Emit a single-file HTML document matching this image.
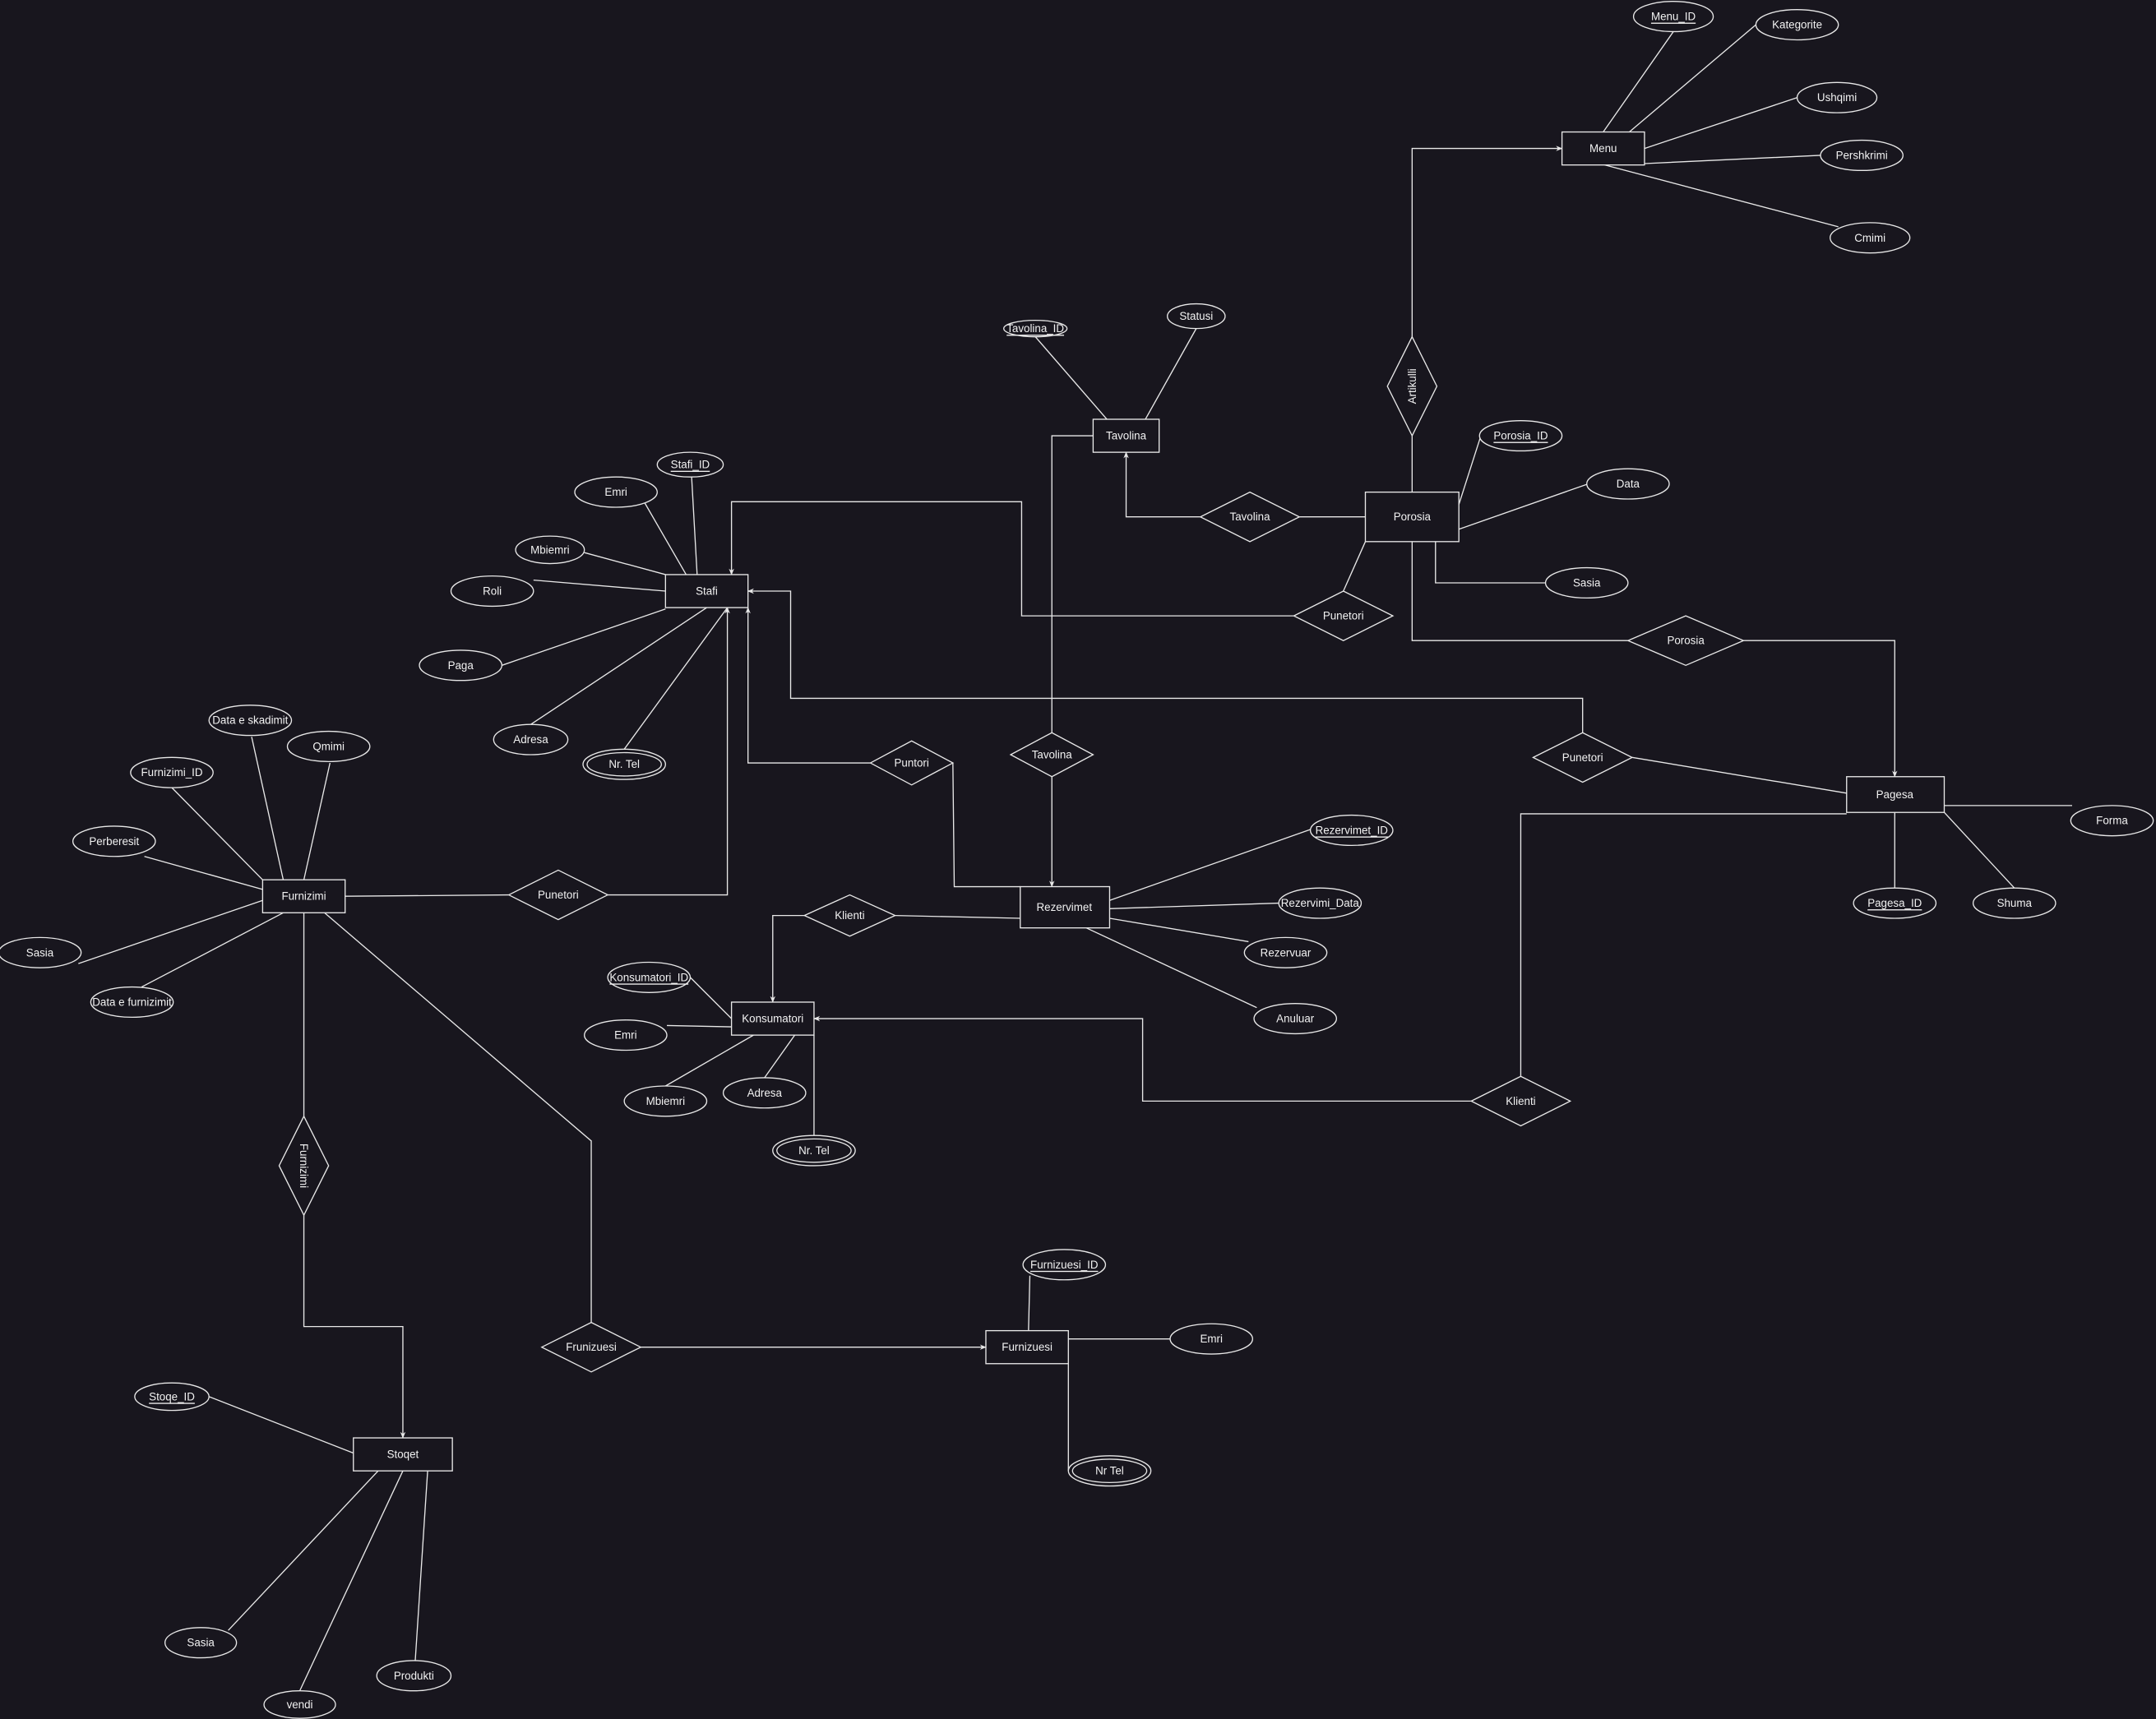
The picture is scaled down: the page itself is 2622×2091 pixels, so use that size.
<!DOCTYPE html>
<html><head><meta charset="utf-8"><style>
html,body{margin:0;padding:0;background:#18161e;}
svg{display:block;}
text{font-family:"Liberation Sans",sans-serif;font-size:8px;fill:#f2f2f2;text-anchor:middle;dominant-baseline:central;}
.s{stroke:#e8e8e8;stroke-width:0.8;fill:none;}
.f{stroke:#e8e8e8;stroke-width:0.8;fill:#18161e;}
</style></head><body>
<svg width="2622" height="2091" viewBox="0 0 1568 1250.5" preserveAspectRatio="none" xmlns="http://www.w3.org/2000/svg">
<defs><marker id="a" viewBox="0 0 10 10" refX="9" refY="5" markerWidth="6" markerHeight="6" orient="auto"><path d="M0,1 L10,5 L0,9 L3,5z" fill="#e8e8e8"/></marker></defs>
<rect width="1568" height="1251" fill="#18161e"/>
<g class="s">
<!-- attribute lines -->
<path d="M1166,96L1217,23M1185,96L1277,18M1196,108L1307,71M1196,119L1324,113M1167,120L1337,165"/>
<path d="M805,305L753,245M833,305L870,239"/>
<path d="M1061,367L1077,317M1061,385L1155,352M1044,394L1044,424L1124,424"/>
<path d="M507,418L503,347M499,418L469,366M484,418L425,402M484,430L388,422M484,443L365,484M514,442L386,527M529,442L454,545"/>
<path d="M206,640L183,536M221,640L240,555M191,640L125,573M191,647L105,623M191,655L57,701M206,664L103,718"/>
<path d="M807,655L957,602M807,661L930,657M807,668L908,685M790,675L914,733"/>
<path d="M532,741L502,711M532,747L485,746M548,753L484,790M578,753L556,784M592,753L592,826"/>
<path d="M1414,586L1507,586M1378,591L1378,646M1414,591L1465,646"/>
<path d="M748,968L749,928M777,974L851,974M777,992L777,1070"/>
<path d="M257,1057L152,1016M275,1070L166,1186M293,1070L218,1230M311,1070L302,1208"/>
<!-- relationships -->
<path d="M1027,358L1027,317"/>
<path d="M1027,245L1027,108L1136,108" marker-end="url(#a)"/>
<path d="M993,376L945,376"/>
<path d="M873,376L819,376L819,329" marker-end="url(#a)"/>
<path d="M795,317L765,317L765,533"/>
<path d="M765,565L765,645" marker-end="url(#a)"/>
<path d="M993,394L977,430"/>
<path d="M941,448L743,448L743,365L532,365L532,418" marker-end="url(#a)"/>
<path d="M1027,394L1027,466L1184,466"/>
<path d="M1268,466L1378,466L1378,565" marker-end="url(#a)"/>
<path d="M1343,577L1187,551"/>
<path d="M1151,533L1151,508L575,508L575,430L544,430" marker-end="url(#a)"/>
<path d="M633,555L544,555L544,442" marker-end="url(#a)"/>
<path d="M693,555L694,645L742,645"/>
<path d="M251,652L370,651"/>
<path d="M442,651L529,651L529,442" marker-end="url(#a)"/>
<path d="M742,668L651,666"/>
<path d="M585,666L562,666L562,729" marker-end="url(#a)"/>
<path d="M1343,592L1106,592L1106,783"/>
<path d="M1070,801L831,801L831,741L592,741" marker-end="url(#a)"/>
<path d="M221,664L221,812"/>
<path d="M221,884L221,965L293,965L293,1046" marker-end="url(#a)"/>
<path d="M236,664L430,830L430,962"/>
<path d="M466,980L717,980" marker-end="url(#a)"/>
</g>
<g class="f">
<rect x="1136" y="96" width="60" height="24"/><rect x="795" y="305" width="48" height="24"/>
<rect x="993" y="358" width="68" height="36"/><rect x="484" y="418" width="60" height="24"/>
<rect x="1343" y="565" width="71" height="26"/><rect x="742" y="645" width="65" height="30"/>
<rect x="191" y="640" width="60" height="24"/><rect x="532" y="729" width="60" height="24"/>
<rect x="717" y="968" width="60" height="24"/><rect x="257" y="1046" width="72" height="24"/>
<path d="M1027,245L1045,281L1027,317L1009,281z"/>
<path d="M873,376L909,358L945,376L909,394z"/>
<path d="M941,448L977,430L1013,448L977,466z"/>
<path d="M1184,466L1226,448L1268,466L1226,484z"/>
<path d="M1115,551L1151,533L1187,551L1151,569z"/>
<path d="M633,555L663,539L693,555L663,571z"/>
<path d="M735,549L765,533L795,549L765,565z"/>
<path d="M585,666L618,651L651,666L618,681z"/>
<path d="M370,651L406,633L442,651L406,669z"/>
<path d="M1070,801L1106,783L1142,801L1106,819z"/>
<path d="M221,812L239,848L221,884L203,848z"/>
<path d="M394,980L430,962L466,980L430,998z"/>
<ellipse cx="1217" cy="12" rx="29" ry="11"/><ellipse cx="1307" cy="18" rx="30" ry="11"/>
<ellipse cx="1336" cy="71" rx="29" ry="11"/><ellipse cx="1354" cy="113" rx="30" ry="11"/>
<ellipse cx="1360" cy="173" rx="29" ry="11"/><ellipse cx="753" cy="239" rx="23" ry="6"/>
<ellipse cx="870" cy="230" rx="21" ry="9"/><ellipse cx="1106" cy="317" rx="30" ry="11"/>
<ellipse cx="1184" cy="352" rx="30" ry="11"/><ellipse cx="1154" cy="424" rx="30" ry="11"/>
<ellipse cx="502" cy="338" rx="24" ry="9"/><ellipse cx="448" cy="358" rx="30" ry="11"/>
<ellipse cx="400" cy="400" rx="25" ry="10"/><ellipse cx="358" cy="430" rx="30" ry="11"/>
<ellipse cx="335" cy="484" rx="30" ry="11"/><ellipse cx="386" cy="538" rx="27" ry="11"/>
<ellipse cx="454" cy="556" rx="30" ry="11"/><ellipse cx="454" cy="556" rx="27" ry="8.5"/>
<ellipse cx="182" cy="524" rx="30" ry="11"/><ellipse cx="239" cy="543" rx="30" ry="11"/>
<ellipse cx="125" cy="562" rx="30" ry="11"/><ellipse cx="83" cy="612" rx="30" ry="11"/>
<ellipse cx="29" cy="693" rx="30" ry="11"/><ellipse cx="96" cy="729" rx="30" ry="11"/>
<ellipse cx="983" cy="604" rx="30" ry="11"/><ellipse cx="960" cy="657" rx="30" ry="11"/>
<ellipse cx="935" cy="693" rx="30" ry="11"/><ellipse cx="942" cy="741" rx="30" ry="11"/>
<ellipse cx="472" cy="711" rx="30" ry="11"/><ellipse cx="455" cy="753" rx="30" ry="11"/>
<ellipse cx="484" cy="801" rx="30" ry="11"/><ellipse cx="556" cy="795" rx="30" ry="11"/>
<ellipse cx="592" cy="837" rx="30" ry="11"/><ellipse cx="592" cy="837" rx="27" ry="8.5"/>
<ellipse cx="1536" cy="597" rx="30" ry="11"/><ellipse cx="1378" cy="657" rx="30" ry="11"/>
<ellipse cx="1465" cy="657" rx="30" ry="11"/><ellipse cx="774" cy="920" rx="30" ry="11"/>
<ellipse cx="881" cy="974" rx="30" ry="11"/>
<ellipse cx="807" cy="1070" rx="30" ry="11"/><ellipse cx="807" cy="1070" rx="27" ry="8.5"/>
<ellipse cx="125" cy="1016" rx="27" ry="10"/><ellipse cx="146" cy="1195" rx="26" ry="11"/>
<ellipse cx="218" cy="1240" rx="26" ry="10"/><ellipse cx="301" cy="1219" rx="27" ry="11"/>
</g>
<g>
<text x="1166" y="108">Menu</text><text x="819" y="317">Tavolina</text><text x="1027" y="376">Porosia</text>
<text x="514" y="430">Stafi</text><text x="1378" y="578">Pagesa</text><text x="774" y="660">Rezervimet</text>
<text x="221" y="652">Furnizimi</text><text x="562" y="741">Konsumatori</text><text x="747" y="980">Furnizuesi</text>
<text x="293" y="1058">Stoqet</text>
<text x="1027" y="281" transform="rotate(-90 1027 281)">Artikulli</text>
<text x="909" y="376">Tavolina</text><text x="977" y="448">Punetori</text><text x="1226" y="466">Porosia</text>
<text x="1151" y="551">Punetori</text><text x="663" y="555">Puntori</text><text x="765" y="549">Tavolina</text>
<text x="618" y="666">Klienti</text><text x="406" y="651">Punetori</text><text x="1106" y="801">Klienti</text>
<text x="221" y="848" transform="rotate(90 221 848)">Furnizimi</text><text x="430" y="980">Frunizuesi</text>
<text x="1217" y="12" text-decoration="underline">Menu_ID</text><text x="1307" y="18">Kategorite</text>
<text x="1336" y="71">Ushqimi</text><text x="1354" y="113">Pershkrimi</text><text x="1360" y="173">Cmimi</text>
<text x="753" y="239" text-decoration="underline">Tavolina_ID</text><text x="870" y="230">Statusi</text>
<text x="1106" y="317" text-decoration="underline">Porosia_ID</text><text x="1184" y="352">Data</text><text x="1154" y="424">Sasia</text>
<text x="502" y="338" text-decoration="underline">Stafi_ID</text><text x="448" y="358">Emri</text><text x="400" y="400">Mbiemri</text>
<text x="358" y="430">Roli</text><text x="335" y="484">Paga</text><text x="386" y="538">Adresa</text><text x="454" y="556">Nr. Tel</text>
<text x="182" y="524">Data e skadimit</text><text x="239" y="543">Qmimi</text><text x="125" y="562">Furnizimi_ID</text>
<text x="83" y="612">Perberesit</text><text x="29" y="693">Sasia</text><text x="96" y="729">Data e furnizimit</text>
<text x="983" y="604" text-decoration="underline">Rezervimet_ID</text><text x="960" y="657">Rezervimi_Data</text>
<text x="935" y="693">Rezervuar</text><text x="942" y="741">Anuluar</text>
<text x="472" y="711" text-decoration="underline">Konsumatori_ID</text><text x="455" y="753">Emri</text>
<text x="484" y="801">Mbiemri</text><text x="556" y="795">Adresa</text><text x="592" y="837">Nr. Tel</text>
<text x="1536" y="597">Forma</text><text x="1378" y="657" text-decoration="underline">Pagesa_ID</text><text x="1465" y="657">Shuma</text>
<text x="774" y="920" text-decoration="underline">Furnizuesi_ID</text><text x="881" y="974">Emri</text><text x="807" y="1070">Nr Tel</text>
<text x="125" y="1016" text-decoration="underline">Stoqe_ID</text><text x="146" y="1195">Sasia</text>
<text x="218" y="1240">vendi</text><text x="301" y="1219">Produkti</text>
</g>
</svg>
</body></html>
